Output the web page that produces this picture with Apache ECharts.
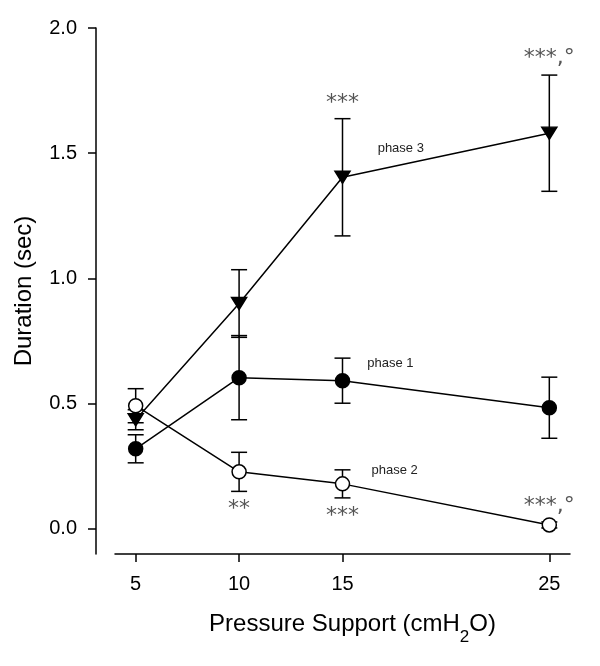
<!DOCTYPE html>
<html><head><meta charset="utf-8">
<script src="https://cdn.jsdelivr.net/npm/echarts@6/dist/echarts.min.js"></script>
<style>html,body{margin:0;padding:0;background:#fff}#c{width:600px;height:666px}</style>
</head><body><div id="c"></div>
<script>
const pressure = [5, 10, 15, 25];
const phase1 = [0.32, 0.604, 0.592, 0.484];
const phase1Err = [0.056, 0.168, 0.09, 0.122];
const phase2 = [0.492, 0.228, 0.18, 0.016];
const phase2Err = [0.068, 0.078, 0.056, 0.012];
const phase3 = [0.436, 0.90, 1.404, 1.58];
const phase3Err = [0.04, 0.135, 0.234, 0.232];
const yTicks = [0, 0.5, 1.0, 1.5, 2.0];
const xTicks = [5, 10, 15, 25];
const sigX = [15, 25, 10, 15, 25];
const sigY = [1.72, 1.9, 0.1, 0.072, 0.112];
const sigText = ['***', '***,°', '**', '***', '***,°'];
const phaseX = [16.7, 16.2, 16.4];
const phaseY = [1.52, 0.66, 0.232];
const phaseText = ['phase 3', 'phase 1', 'phase 2'];

const FONT = '"Liberation Sans", Arial, Helvetica, sans-serif';
const chart = echarts.init(document.getElementById('c'), null, {renderer: 'canvas'});

function errSeries(vals, errs) {
  return {
    type: 'custom',
    clip: false,
    z: 1,
    encode: {x: 0, y: [1, 2]},
    data: pressure.map((x, i) => [x, vals[i] - errs[i], vals[i] + errs[i]]),
    renderItem: (params, api) => {
      const lo = api.coord([api.value(0), api.value(1)]);
      const hi = api.coord([api.value(0), api.value(2)]);
      const w = 8;
      const style = {stroke: '#000', lineWidth: 1.5, fill: null};
      return {type: 'group', children: [
        {type: 'line', shape: {x1: lo[0], y1: lo[1], x2: hi[0], y2: hi[1]}, style},
        {type: 'line', shape: {x1: lo[0] - w, y1: lo[1], x2: lo[0] + w, y2: lo[1]}, style},
        {type: 'line', shape: {x1: hi[0] - w, y1: hi[1], x2: hi[0] + w, y2: hi[1]}, style}
      ]};
    }
  };
}

function lineSeries(vals, symbol, fill, size, rotate) {
  return {
    type: 'line',
    z: 3,
    data: pressure.map((x, i) => [x, vals[i]]),
    symbol: symbol,
    symbolSize: size,
    symbolRotate: rotate || 0,
    showAllSymbol: true,
    lineStyle: {color: '#000', width: 1.5},
    itemStyle: {color: fill, borderColor: '#000', borderWidth: 1.5},
    emphasis: {disabled: true}
  };
}

function textSeries(xs, ys, texts, font, color, align, dy) {
  return {
    type: 'custom',
    clip: false,
    z: 5,
    encode: {x: 0, y: 1},
    data: xs.map((x, i) => [x, ys[i], i]),
    renderItem: (params, api) => {
      const p = api.coord([api.value(0), api.value(1)]);
      return {type: 'text', x: p[0], y: p[1] + dy, style: {
        text: texts[api.value(2)], font: font, fill: color, align: align, verticalAlign: 'middle'
      }};
    }
  };
}

chart.setOption({
  animation: false,
  backgroundColor: '#fff',
  grid: {left: 115, right: 30, top: 28, bottom: 112, containLabel: false},
  xAxis: {
    type: 'value', min: 4, max: 26,
    axisLine: {show: true, onZero: false, lineStyle: {color: '#000', width: 1.5}},
    axisTick: {show: true, length: 8, customValues: xTicks, lineStyle: {color: '#000', width: 1.5}},
    axisLabel: {customValues: xTicks, fontSize: 20, color: '#000', fontFamily: FONT, margin: 20},
    splitLine: {show: false},
    name: 'Pressure Support (cmH{sub|2}O)',
    nameLocation: 'middle', nameGap: 49,
    nameTextStyle: {fontSize: 24, color: '#000', fontFamily: FONT, padding: [0, 0, 0, 20],
      rich: {sub: {fontSize: 17, color: '#000', fontFamily: FONT, padding: [26, 0, 0, 0]}}}
  },
  yAxis: {
    type: 'value', min: -0.1, max: 2.0, offset: 19,
    axisLine: {show: true, lineStyle: {color: '#000', width: 1.5}},
    axisTick: {show: true, length: 8, customValues: yTicks, lineStyle: {color: '#000', width: 1.5}},
    axisLabel: {customValues: yTicks, formatter: v => v.toFixed(1), fontSize: 20, color: '#000', fontFamily: FONT, margin: 19},
    splitLine: {show: false},
    name: 'Duration (sec)', nameLocation: 'middle', nameGap: 60,
    nameTextStyle: {fontSize: 24, color: '#000', fontFamily: FONT}
  },
  series: [
    errSeries(phase3, phase3Err),
    errSeries(phase1, phase1Err),
    errSeries(phase2, phase2Err),
    lineSeries(phase3, 'triangle', '#000', [15, 12], 180),
    lineSeries(phase1, 'circle', '#000', 14),
    lineSeries(phase2, 'circle', '#fff', 14),
    textSeries(sigX, sigY, sigText, '22px "DejaVu Sans", sans-serif', '#555', 'center', 5),
    textSeries(phaseX, phaseY, phaseText, '13px ' + FONT, '#222', 'left', 0)
  ]
});
</script></body></html>
